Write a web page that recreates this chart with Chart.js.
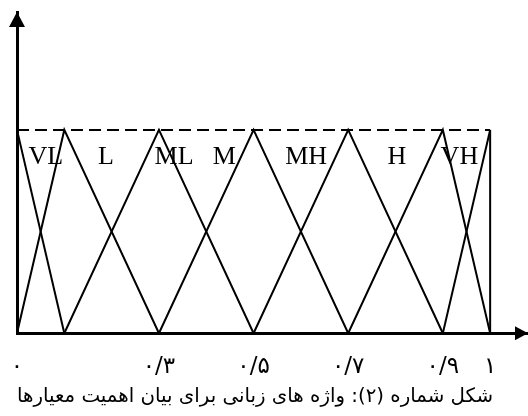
<!DOCTYPE html>
<html>
<head>
<meta charset="utf-8">
<title>واژه های زبانی</title>
<script src="https://cdn.jsdelivr.net/npm/chart.js@4.4.1/dist/chart.umd.min.js"></script>
<style>
  html, body { margin: 0; padding: 0; background: #ffffff; }
  #wrap { width: 528px; height: 416px; }
</style>
</head>
<body>
<div id="wrap"><canvas id="fuzzy"></canvas></div>
<script>
// Linguistic terms and the breakpoints of their triangular membership functions
const terms = ['VL', 'L', 'ML', 'M', 'MH', 'H', 'VH'];
const vlX = [0, 0.1];            const vlMu = [1, 0];
const lX  = [0, 0.1, 0.3];       const lMu  = [0, 1, 0];
const mlX = [0.1, 0.3, 0.5];     const mlMu = [0, 1, 0];
const mX  = [0.3, 0.5, 0.7];     const mMu  = [0, 1, 0];
const mhX = [0.5, 0.7, 0.9];     const mhMu = [0, 1, 0];
const hX  = [0.7, 0.9, 1];       const hMu  = [0, 1, 0];
const vhX = [0.9, 1];            const vhMu = [0, 1];

// Full-membership level and the closing edge at the end of the domain
const topX  = [0, 1];  const topMu  = [1, 1];
const edgeX = [1, 1];  const edgeMu = [0, 1];

// Axis ticks (Persian digits)
const tickValues = [0, 0.3, 0.5, 0.7, 0.9, 1];
const tickLabels = ['۰', '۰/۳', '۰/۵', '۰/۷', '۰/۹', '۱'];

const caption = 'شکل شماره (۲): واژه های زبانی برای بیان اهمیت معیارها';

const toPoints = (xs, ys) => xs.map((v, i) => ({ x: v, y: ys[i] }));

const solid = (label, xs, ys) => ({
  label,
  data: toPoints(xs, ys),
  borderColor: '#000',
  borderWidth: 2,
  pointRadius: 0,
  fill: false,
  tension: 0
});

const datasets = [
  solid('VL', vlX, vlMu),
  solid('L', lX, lMu),
  solid('ML', mlX, mlMu),
  solid('M', mX, mMu),
  solid('MH', mhX, mhMu),
  solid('H', hX, hMu),
  solid('VH', vhX, vhMu),
  Object.assign(solid('top', topX, topMu), { borderDash: [12, 6] }),
  solid('edge', edgeX, edgeMu)
];

// Arrowheads on both axes and the term names inside the plot
const axisDecor = {
  id: 'axisDecor',
  afterDraw(chart, args, opts) {
    const { ctx, chartArea: a, scales: { x, y } } = chart;
    ctx.save();
    ctx.fillStyle = '#000';
    ctx.beginPath();
    ctx.moveTo(a.left, a.top);
    ctx.lineTo(a.left - 8, a.top + 15);
    ctx.lineTo(a.left + 8, a.top + 15);
    ctx.closePath();
    ctx.fill();

    ctx.beginPath();
    ctx.moveTo(a.right, a.bottom);
    ctx.lineTo(a.right - 13, a.bottom - 7);
    ctx.lineTo(a.right - 13, a.bottom + 7);
    ctx.closePath();
    ctx.fill();

    ctx.font = '26px "Liberation Serif"';
    ctx.textAlign = 'center';
    ctx.textBaseline = 'alphabetic';
    const yb = y.getPixelForValue(opts.baseline);
    terms.forEach((t, i) => ctx.fillText(t, x.getPixelForValue(opts.anchors[i]), yb));
    ctx.restore();
  }
};

new Chart(document.getElementById('fuzzy'), {
  type: 'line',
  data: { datasets },
  plugins: [axisDecor],
  options: {
    responsive: true,
    maintainAspectRatio: false,
    animation: false,
    events: [],
    layout: { padding: { left: 17, right: 0, top: 12, bottom: 0 } },
    scales: {
      x: {
        type: 'linear',
        min: 0,
        max: 1.08,
        grid: { display: false, drawTicks: false },
        border: { display: true, color: '#000', width: 3 },
        afterBuildTicks: s => { s.ticks = tickValues.map(v => ({ value: v })); },
        afterFit: s => { s.height = 48; },
        ticks: {
          autoSkip: false,
          maxRotation: 0,
          padding: 0,
          color: '#000',
          font: { family: '"DejaVu Sans"', size: 23, lineHeight: '68px' },
          callback: (value, index) => tickLabels[index]
        }
      },
      y: {
        type: 'linear',
        min: 0,
        max: 1.58,
        grid: { display: false, drawTicks: false },
        border: { display: true, color: '#000', width: 3 },
        ticks: { display: false }
      }
    },
    plugins: {
      legend: { display: false },
      tooltip: { enabled: false },
      title: {
        display: true,
        position: 'bottom',
        align: 'start',
        text: caption,
        color: '#000',
        font: { family: '"DejaVu Sans"', size: 19.8, weight: 'normal', lineHeight: 1.2 },
        padding: { top: 4, bottom: 7 }
      },
      axisDecor: {
        baseline: 0.8325,
        anchors: [0.061, 0.188, 0.332, 0.438, 0.611, 0.803, 0.935]
      }
    }
  }
});
</script>
</body>
</html>
